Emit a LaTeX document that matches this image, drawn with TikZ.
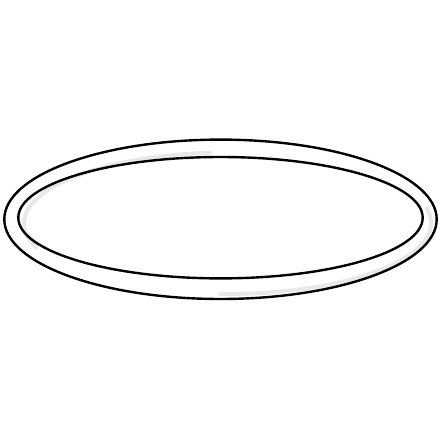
\documentclass[tikz,border=0pt]{standalone}
\begin{document}
\begin{tikzpicture}[x=1pt,y=1pt,
  ringline/.style={draw=black,line width=2.4pt},
  shade/.style={draw=black!9,line width=4pt,line cap=round}]
\useasboundingbox (0,0) rectangle (440,440);
\fill[white] (0,0) rectangle (440,440);
% light shading inside the ring
\draw[shade] (227.5,216.75) ++(95:203.5 and 70.75) arc[start angle=95,end angle=200,x radius=203.5,y radius=70.75];
\draw[shade] (227.5,216.75) ++(268:203.5 and 70.75) arc[start angle=268,end angle=372,x radius=203.5,y radius=70.75];
% outer and inner edges
\draw[ringline] (220.5,220.7) ellipse[x radius=216.2,y radius=79.7];
\draw[ringline] (220.5,222.3) ellipse[x radius=202.2,y radius=60.7];
\end{tikzpicture}
\end{document}
